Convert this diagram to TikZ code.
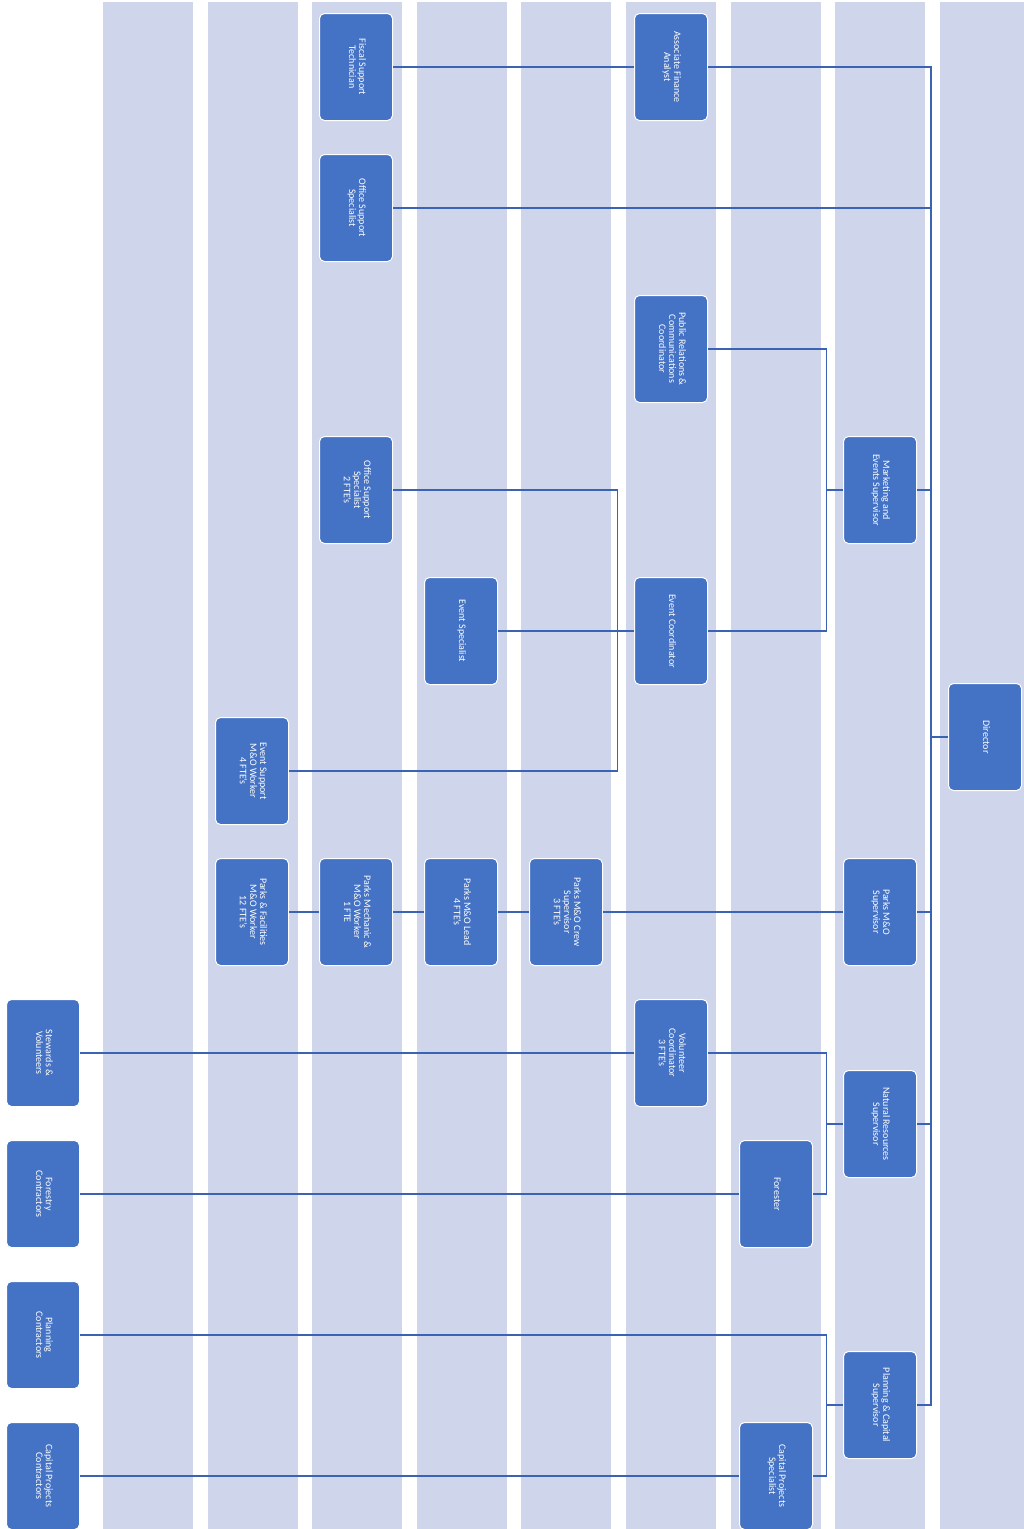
\documentclass[tikz,border=0pt]{standalone}
\usepackage{fontspec}
\setmainfont{Carlito}
\usepackage{graphicx}
\definecolor{lanefill}{HTML}{CFD5EA}
\definecolor{boxblue}{HTML}{4472C4}
\definecolor{wire}{HTML}{3A63B4}
\newcommand{\vlabel}[1]{\rotatebox{-90}{\begin{tabular}{@{}c@{}}#1\end{tabular}}}
\tikzset{
  lane/.style={fill=lanefill, draw=none},
  unit/.style={draw=white, line width=1pt, fill=boxblue, rounded corners=5pt,
    minimum width=73pt, minimum height=107pt, inner sep=0pt, text=white,
    font=\fontsize{10}{10}\selectfont},
  link/.style={draw=wire, line width=1.8pt},
}

\begin{document}
\begin{tikzpicture}[x=1pt,y=-1pt]
  \useasboundingbox (0,0) rectangle (1023,1529);
  % lanes
  \foreach \i in {0,...,8}
    \fill[lane] ({103+104.6*\i},2) rectangle +(90,1527);
  \path[use as bounding box] (0,0) rectangle (1023,1529);

  % finance and office
  \node[unit] (fiscal) at (356,67) {\vlabel{Fiscal Support\\Technician}};
  \node[unit] (finance) at (671,67) {\vlabel{Associate Finance\\Analyst}};
  \node[unit] (offsup) at (356,208) {\vlabel{Office Support\\Specialist}};

  % marketing and events
  \node[unit] (pr) at (671,349) {\vlabel{Public Relations \&\\Communications\\Coordinator}};
  \node[unit] (mktg) at (880,490) {\vlabel{Marketing and\\Events Supervisor}};
  \node[unit] (offsuptwo) at (356,490) {\vlabel{Office Support\\Specialist\\2 FTE's}};
  \node[unit] (evspec) at (461,631) {\vlabel{Event Specialist}};
  \node[unit] (evcoord) at (671,631) {\vlabel{Event Coordinator}};
  \node[unit] (evsupport) at (252,771) {\vlabel{Event Support\\M\&O Worker\\4 FTE's}};
  \node[unit] (dir) at (985,737) {\vlabel{Director}};

  % parks
  \node[unit] (facil) at (252,912) {\vlabel{Parks \& Facilities\\M\&O Worker\\12 FTE's}};
  \node[unit] (mech) at (356,912) {\vlabel{Parks Mechanic \&\\M\&O Worker\\1 FTE}};
  \node[unit] (lead) at (461,912) {\vlabel{Parks M\&O Lead\\4 FTE's}};
  \node[unit] (crew) at (566,912) {\vlabel{Parks M\&O Crew\\Supervisor\\3 FTE's}};
  \node[unit] (parks) at (880,912) {\vlabel{Parks M\&O\\Supervisor}};

  % natural resources
  \node[unit] (stewards) at (43,1053) {\vlabel{Stewards \&\\Volunteers}};
  \node[unit] (volcoord) at (671,1053) {\vlabel{Volunteer\\Coordinator\\3 FTE's}};
  \node[unit] (natres) at (880,1124) {\vlabel{Natural Resources\\Supervisor}};
  \node[unit] (forester) at (776,1194) {\vlabel{Forester}};
  \node[unit] (forcon) at (43,1194) {\vlabel{Forestry\\Contractors}};

  % planning and capital
  \node[unit] (plancon) at (43,1335) {\vlabel{Planning\\Contractors}};
  \node[unit] (plancap) at (880,1405) {\vlabel{Planning \& Capital\\Supervisor}};
  \node[unit] (capspec) at (776,1476) {\vlabel{Capital Projects\\Specialist}};
  \node[unit] (capcon) at (43,1476) {\vlabel{Capital Projects\\Contractors}};

  % buses
  \path (dir.west) ++(-17,0) coordinate (trunk);
  \path (mktg.west) ++(-16.5,0) coordinate (mbus);
  \path (evcoord.west) ++(-16.5,0) coordinate (ebus);
  \path (natres.west) ++(-16.5,0) coordinate (nbus);
  \path (plancap.west) ++(-16.5,0) coordinate (pbus);

  \draw[link] (dir.west) -- (trunk);
  \foreach \n in {finance,offsup,mktg,parks,natres,plancap}
    \draw[link] (trunk) |- (\n.east);
  \draw[link] (mktg.west) -- (mbus);
  \foreach \n in {pr,evcoord}
    \draw[link] (mbus) |- (\n.east);
  \draw[link] (evcoord.west) -- (ebus);
  \foreach \n in {offsuptwo,evspec,evsupport}
    \draw[link] (ebus) |- (\n.east);
  \draw[link] (natres.west) -- (nbus);
  \foreach \n in {volcoord,forester}
    \draw[link] (nbus) |- (\n.east);
  \draw[link] (plancap.west) -- (pbus);
  \foreach \n in {plancon,capspec}
    \draw[link] (pbus) |- (\n.east);

  % direct lines
  \draw[link] (fiscal.east) -- (finance.west);
  \draw[link] (parks.west) -- (crew.east);
  \draw[link] (crew.west) -- (lead.east);
  \draw[link] (lead.west) -- (mech.east);
  \draw[link] (mech.west) -- (facil.east);
  \draw[link] (volcoord.west) -- (stewards.east);
  \draw[link] (forester.west) -- (forcon.east);
  \draw[link] (capspec.west) -- (capcon.east);
\end{tikzpicture}
\end{document}
